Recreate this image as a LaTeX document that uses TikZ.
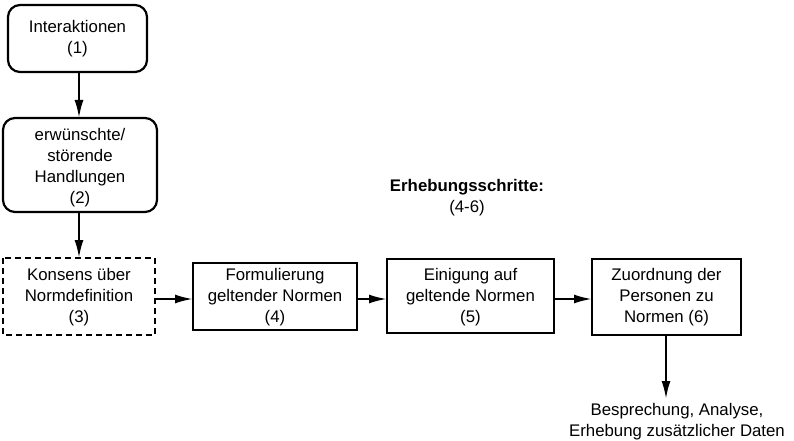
\documentclass[tikz,border=0pt]{standalone}
\usepackage{fontspec}
\setmainfont{Liberation Sans}
\usetikzlibrary{arrows.meta}
\begin{document}
\begin{tikzpicture}[x=1pt,y=-1pt,
  every node/.style={font=\fontsize{16.8}{21}\selectfont, align=center, inner sep=0pt},
  box/.style={draw, line width=2.2pt},
  rbox/.style={draw, line width=2.2pt, rounded corners=12pt},
  dbox/.style={draw, line width=2.2pt, dash pattern=on 6pt off 4pt},
  arr/.style={line width=2.2pt, -{Latex[length=18pt,width=9pt]}}
]
\useasboundingbox (0,0) rectangle (794,441);
% boxes
\draw[rbox] (8,5) rectangle (147,72);
\node (n1) at (77.5,39) {Interaktionen\\(1)};
\coordinate (b1) at (79,72);
\draw[rbox] (3,118) rectangle (157,212);
\node (n2) at (80,168) {erwünschte/\\störende\\Handlungen\\(2)};
\coordinate (t2) at (79,118);
\coordinate (b2) at (79,212);
\draw[dbox] (3,258) rectangle (155,335);
\node (n3) at (79,297) {Konsens über\\Normdefinition\\(3)};
\coordinate (t3) at (79,258);
\coordinate (r3) at (155,299);
\draw[box] (193,263) rectangle (357,330);
\node (n4) at (275,297) {Formulierung\\geltender Normen\\(4)};
\coordinate (l4) at (193,299);
\coordinate (r4) at (357,299);
\draw[box] (387,259) rectangle (554,333);
\node (n5) at (470.5,297) {Einigung auf\\geltende Normen\\(5)};
\coordinate (l5) at (387,299);
\coordinate (r5) at (554,299);
\draw[box] (592,259) rectangle (741,335);
\node (n6) at (666.5,297) {Zuordnung der\\Personen zu\\Normen (6)};
\coordinate (l6) at (592,299);
\coordinate (b6) at (666,335);
\node (out) at (677,422) {Besprechung, Analyse,\\Erhebung zusätzlicher Daten};
\coordinate (t7) at (666,399);
\node (hdr) at (467,198) {\textbf{Erhebungsschritte:}\\(4-6)};
% arrows
\draw[arr] (b1) -- (t2);
\draw[arr] (b2) -- (t3);
\draw[arr] (r3) -- (l4);
\draw[arr] (r4) -- (l5);
\draw[arr] (r5) -- (l6);
\draw[arr] (b6) -- (t7);
\end{tikzpicture}
\end{document}
